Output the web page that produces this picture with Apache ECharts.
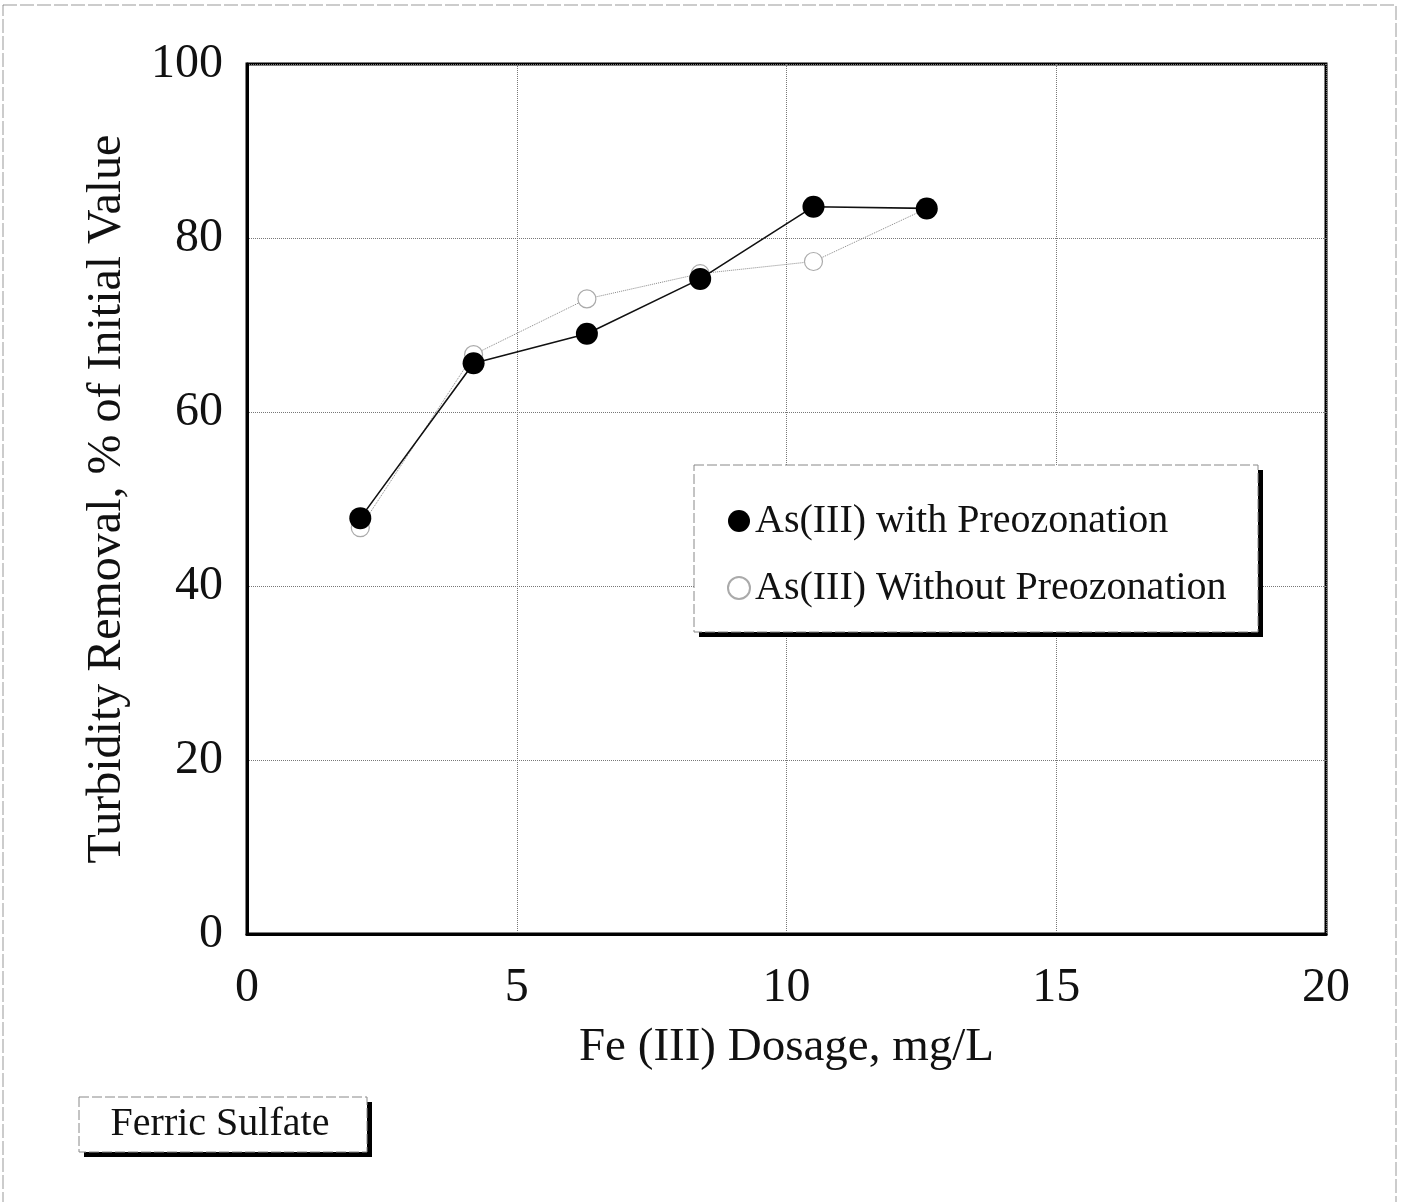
<!DOCTYPE html>
<html>
<head>
<meta charset="utf-8">
<script src="https://cdn.jsdelivr.net/npm/echarts@6/dist/echarts.min.js"></script>
<style>
html,body{margin:0;padding:0;background:#fff;}
#chart{width:1401px;height:1202px;}
</style>
</head>
<body>
<div id="chart"></div>
<script>
const dosage = [2.1, 4.2, 6.3, 8.4, 10.5, 12.6];
const withPreozonation = [47.8, 65.6, 69.0, 75.3, 83.6, 83.4];
const withoutPreozonation = [46.7, 66.6, 73.0, 75.9, 77.3, 83.4];
const seriesNames = ['As(III) with Preozonation', 'As(III) Without Preozonation'];
const xTitle = 'Fe (III) Dosage, mg/L';
const yTitle = 'Turbidity Removal, % of Initial Value';
const noteText = 'Ferric Sulfate';

const FONT = '"Liberation Serif", "DejaVu Serif", serif';
const chart = echarts.init(document.getElementById('chart'));
chart.setOption({
  backgroundColor: '#fff',
  animation: false,
  grid: {left: 247, right: 75, top: 64, bottom: 268, show: true, borderColor: '#000', borderWidth: 3},
  xAxis: {
    type: 'value', min: 0, max: 20, interval: 5,
    name: xTitle, nameLocation: 'middle', nameGap: 90,
    nameTextStyle: {fontFamily: FONT, fontSize: 47, color: '#111'},
    axisLine: {show: true, lineStyle: {color: '#000', width: 3}},
    axisTick: {show: false},
    axisLabel: {fontFamily: FONT, fontSize: 48, color: '#111', margin: 30},
    splitLine: {show: true, lineStyle: {color: '#777', type: 'dotted', width: 1}}
  },
  yAxis: {
    type: 'value', min: 0, max: 100, interval: 20,
    name: yTitle, nameLocation: 'middle', nameGap: 116,
    nameTextStyle: {fontFamily: FONT, fontSize: 48, color: '#111'},
    axisLine: {show: true, lineStyle: {color: '#000', width: 3}},
    axisTick: {show: false},
    axisLabel: {fontFamily: FONT, fontSize: 48, color: '#111', margin: 24},
    splitLine: {show: true, lineStyle: {color: '#777', type: 'dotted', width: 1}}
  },
  legend: {
    orient: 'vertical', left: 722, top: 496, z: 10,
    itemWidth: 22, itemHeight: 22, itemGap: 27,
    textStyle: {fontFamily: FONT, fontSize: 40, color: '#111'},
    data: [
      {name: seriesNames[0], icon: 'circle'},
      {name: seriesNames[1], icon: 'circle'}
    ]
  },
  graphic: [
    {type: 'rect', z: 5, shape: {x: 3, y: 5, width: 1393, height: 1205}, style: {fill: 'none', stroke: '#999', lineWidth: 1, lineDash: [14, 3]}},
    {type: 'rect', z: 8, shape: {x: 699, y: 470, width: 564, height: 167}, style: {fill: '#000'}},
    {type: 'rect', z: 9, shape: {x: 694, y: 465, width: 564, height: 167}, style: {fill: '#fff', stroke: '#888', lineWidth: 1, lineDash: [10, 3]}},
    {type: 'rect', z: 8, shape: {x: 84, y: 1102, width: 288, height: 55}, style: {fill: '#000'}},
    {type: 'rect', z: 9, shape: {x: 79, y: 1097, width: 288, height: 55}, style: {fill: '#fff', stroke: '#888', lineWidth: 1, lineDash: [10, 3]}},
    {type: 'text', z: 10, x: 220, y: 1124, style: {text: noteText, fontFamily: FONT, fontSize: 40, fill: '#111', align: 'center', verticalAlign: 'middle'}}
  ],
  series: [
    {
      name: seriesNames[1], type: 'line', z: 2,
      data: dosage.map((x, i) => [x, withoutPreozonation[i]]),
      symbol: 'circle', symbolSize: 18,
      itemStyle: {color: '#fff', borderColor: '#aaa', borderWidth: 1.2},
      lineStyle: {color: '#888', width: 1, type: 'dotted'}
    },
    {
      name: seriesNames[0], type: 'line', z: 3,
      data: dosage.map((x, i) => [x, withPreozonation[i]]),
      symbol: 'circle', symbolSize: 22,
      itemStyle: {color: '#000', borderColor: '#000', borderWidth: 0},
      lineStyle: {color: '#111', width: 1.6}
    }
  ]
});
</script>
</body>
</html>
